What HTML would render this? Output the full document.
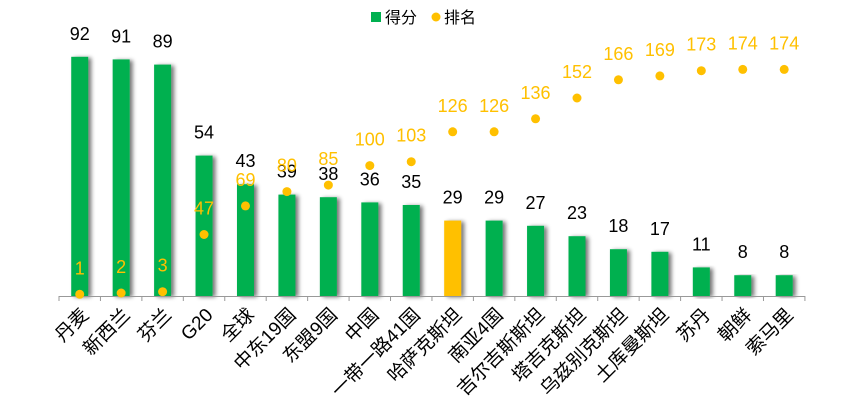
<!DOCTYPE html>
<html><head><meta charset="utf-8"><style>
html,body{margin:0;padding:0;background:#fff;}
svg{display:block;font-family:"Liberation Sans","Noto Sans CJK SC",sans-serif;}
</style></head><body>
<svg id="s" width="857" height="404" viewBox="0 0 857 404" xmlns="http://www.w3.org/2000/svg">
<defs><filter id="sh" x="-50%" y="-10%" width="200%" height="120%">
<feGaussianBlur in="SourceAlpha" stdDeviation="2.2"/><feOffset dx="3" dy="1" result="b"/>
<feComponentTransfer><feFuncA type="linear" slope="0.55"/></feComponentTransfer>
<feMerge><feMergeNode/><feMergeNode in="SourceGraphic"/></feMerge></filter></defs>
<rect x="371" y="12" width="10" height="10" fill="#00B050"/>
<text x="385" y="23" font-size="16" fill="#000">得分</text>
<circle cx="436" cy="17" r="4.5" fill="#FFC000"/>
<text x="444" y="23" font-size="16" fill="#000">排名</text>
<g id="c"></g>
</svg>
<script>
(function(){
var names=["丹麦","新西兰","芬兰","G20","全球","中东19国","东盟9国","中国","一带一路41国","哈萨克斯坦","南亚4国","吉尔吉斯斯坦","塔吉克斯坦","乌兹别克斯坦","土库曼斯坦","苏丹","朝鲜","索马里"];
var sc=[92,91,89,54,43,39,38,36,35,29,29,27,23,18,17,11,8,8];
var rk=[1,2,3,47,69,80,85,100,103,126,126,136,152,166,169,173,174,174];
var s='';var base=296,x0=59,w=41.44;
for(var i=0;i<18;i++){var cx=x0+w*(i+0.5);var bt=base-sc[i]*2.6;
s+='<rect x="'+(cx-8.5)+'" y="'+bt+'" width="17" height="'+(base-bt)+'" fill="'+(i==9?'#FFC000':'#00B050')+'" filter="url(#sh)"/>';}
s+='<line x1="'+x0+'" y1="296.5" x2="805" y2="296.5" stroke="#999" stroke-width="1"/>';
for(var i=0;i<=18;i++){var tx=x0+w*i;s+='<line x1="'+tx+'" y1="296" x2="'+tx+'" y2="301" stroke="#999"/>';}
for(var i=0;i<18;i++){var cx=x0+w*(i+0.5);var bt=base-sc[i]*2.6;
s+='<text x="'+cx+'" y="'+(bt-17)+'" font-size="18" text-anchor="middle" fill="#000">'+sc[i]+'</text>';
var ry=294.3-(rk[i]-1)*1.3;
s+='<circle cx="'+cx+'" cy="'+ry+'" r="4.5" fill="#FFC000"/>';
s+='<text x="'+cx+'" y="'+(ry-20)+'" font-size="18" text-anchor="middle" fill="#FFC000">'+rk[i]+'</text>';
s+='<text transform="translate('+(cx+10)+',316) rotate(-45)" font-size="19" text-anchor="end" fill="#000">'+names[i]+'</text>';}
document.getElementById('c').innerHTML=s;
})();
</script>
</body></html>
